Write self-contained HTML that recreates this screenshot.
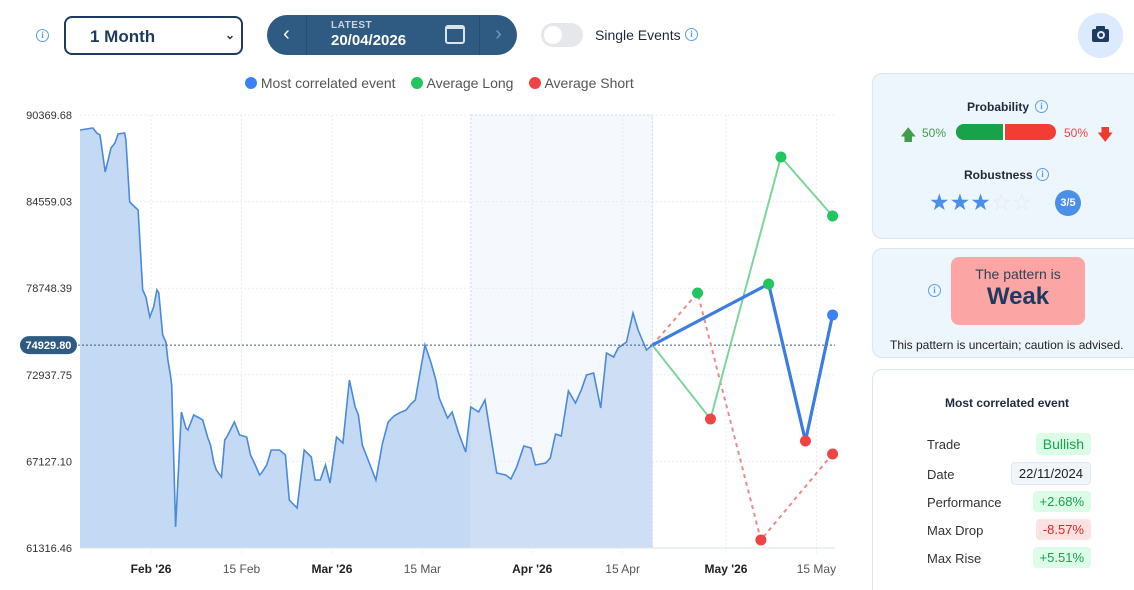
<!DOCTYPE html>
<html><head><meta charset="utf-8"><style>
*{box-sizing:border-box;margin:0;padding:0}
html,body{width:1134px;height:590px;overflow:hidden}
body{background:#fff;font-family:"Liberation Sans",sans-serif;color:#1e293b;position:relative}
.abs{position:absolute}
.info{width:13px;height:13px;border:1.3px solid #5aa0e8;border-radius:50%;color:#5aa0e8;font-size:9px;line-height:11px;text-align:center;font-weight:bold;font-family:"Liberation Serif",serif}
.card{position:absolute;left:872px;width:270px;border:1px solid #dbe6f0;border-radius:10px}
.row{position:absolute;left:54px;font-size:13px;color:#333}
.badge{position:absolute;right:50px;font-size:13px;padding:3px 7px;border-radius:4px;text-align:center}
</style></head><body>
<div class="abs info" style="left:36px;top:29px">i</div>
<div class="abs" style="left:64px;top:16px;width:179px;height:39px;border:2px solid #1e3a5f;border-radius:8px;font-size:17px;font-weight:bold;padding:9px 0 0 24px;color:#1e3a5f">1 Month<span style="position:absolute;right:6px;top:10px;font-size:12px">&#8964;</span></div>
<div class="abs" style="left:267px;top:15px;width:250px;height:40px;background:#2f5a82;border-radius:20px;color:#fff">
 <div class="abs" style="left:0;top:0;width:40px;height:40px;border-right:1px solid #284d70;font-size:20px;text-align:center;line-height:38px">&#8249;</div>
 <div class="abs" style="left:64px;top:5px;font-size:10px;font-weight:bold;color:#cbd5e1;letter-spacing:.5px">LATEST</div>
 <div class="abs" style="left:64px;top:17px;font-size:15px;font-weight:bold">20/04/2026</div>
 <div class="abs" style="left:178px;top:10px;width:20px;height:19px;border:2px solid #dbe3ec;border-top-width:4px;border-radius:3px"></div>
 <div class="abs" style="left:212px;top:0;width:38px;height:40px;border-left:1px solid #284d70;font-size:20px;text-align:center;line-height:38px;color:#7d97b2">&#8250;</div>
</div>
<div class="abs" style="left:541px;top:23px;width:42px;height:24px;background:#e5e7eb;border-radius:12px"><div style="position:absolute;left:3px;top:3px;width:18px;height:18px;border-radius:50%;background:#fff"></div></div>
<div class="abs" style="left:595px;top:27px;font-size:14px;color:#1e293b">Single Events</div>
<div class="abs info" style="left:685px;top:28px">i</div>
<div class="abs" style="left:1078px;top:13px;width:45px;height:45px;border-radius:50%;background:#dbeafe">
 <div style="position:absolute;left:14px;top:16px;width:17px;height:13px;background:#1e3a5f;border-radius:2px"></div>
 <div style="position:absolute;left:18px;top:13px;width:9px;height:4px;background:#1e3a5f;border-radius:1px"></div>
 <div style="position:absolute;left:19px;top:18px;width:8px;height:8px;border:2px solid #dbeafe;border-radius:50%"></div>
</div>

<div class="abs" style="left:245px;top:75px;font-size:14px;color:#555;white-space:nowrap">
 <span><span style="display:inline-block;width:12px;height:12px;border-radius:50%;background:#3b82f6;vertical-align:-1px"></span> Most correlated event</span>
 <span style="margin-left:12px"><span style="display:inline-block;width:12px;height:12px;border-radius:50%;background:#22c55e;vertical-align:-1px"></span> Average Long</span>
 <span style="margin-left:12px"><span style="display:inline-block;width:12px;height:12px;border-radius:50%;background:#ef4444;vertical-align:-1px"></span> Average Short</span>
</div>

<svg class="abs" style="left:0;top:0" width="860" height="590" id="chart"></svg>

<div class="card" style="top:73px;height:166px;background:#eef6fd">
 <div class="abs" style="left:94px;top:26px;font-size:12px;font-weight:bold">Probability</div>
 <div class="abs info" style="left:162px;top:26px">i</div>
 <div class="abs" style="left:27px;top:50px;color:#3f9e47;font-size:16px">&#129093;</div>
 <div class="abs" style="left:49px;top:52px;font-size:12px;color:#3f9e47">50%</div>
 <div class="abs" style="left:83px;top:50px;width:100px;height:16px;border-radius:8px;overflow:hidden;background:#f13d33"><div style="width:49px;height:16px;background:#16a34a;border-right:2px solid #fff"></div></div>
 <div class="abs" style="left:191px;top:52px;font-size:12px;color:#ef4444">50%</div>
 <div class="abs" style="left:224px;top:50px;color:#ef3a2e;font-size:16px">&#129095;</div>
 <div class="abs" style="left:91px;top:94px;font-size:12px;font-weight:bold">Robustness</div>
 <div class="abs info" style="left:163px;top:94px">i</div>
 <div class="abs" style="left:56px;top:115px;font-size:23px;letter-spacing:0px;line-height:26px"><span style="color:#4a90e8">★★★</span><span style="color:#e5e7eb">☆☆</span></div>
 <div class="abs" style="left:182px;top:116px;width:26px;height:26px;border-radius:50%;background:#4a90e8;color:#fff;font-size:11px;font-weight:bold;text-align:center;line-height:26px">3/5</div>
</div>
<div class="card" style="top:248px;height:110px;background:#eef6fd">
 <div class="abs info" style="left:55px;top:35px">i</div>
 <div class="abs" style="left:78px;top:8px;width:134px;height:68px;background:#fca5a5;border-radius:8px;text-align:center">
  <div style="font-size:14px;color:#334155;margin-top:9px">The pattern is</div>
  <div style="font-size:24px;font-weight:bold;color:#1e3a5f;margin-top:1px">Weak</div>
 </div>
 <div class="abs" style="left:17px;top:89px;font-size:12px;color:#222">This pattern is uncertain; caution is advised.</div>
</div>
<div class="card" style="top:369px;height:240px;background:#fff">
 <div class="abs" style="left:72px;top:26px;font-size:12px;font-weight:bold">Most correlated event</div>
 <div class="row" style="top:67px">Trade</div><div class="badge" style="top:63px;background:#dcfce7;color:#16a34a;font-size:14px">Bullish</div>
 <div class="row" style="top:97px">Date</div><div class="badge" style="top:92px;background:#f1f5f9;border:1px solid #e2e8f0;color:#222">22/11/2024</div>
 <div class="row" style="top:125px">Performance</div><div class="badge" style="top:121px;background:#dcfce7;color:#16a34a">+2.68%</div>
 <div class="row" style="top:153px">Max Drop</div><div class="badge" style="top:149px;background:#fee2e2;color:#dc2626">-8.57%</div>
 <div class="row" style="top:181px">Max Rise</div><div class="badge" style="top:177px;background:#dcfce7;color:#16a34a">+5.51%</div>
</div>

<script>
const yTicks=[90369.68,84559.03,78748.39,72937.75,67127.10,61316.46];
const xTickLabels=["Feb '26","15 Feb","Mar '26","15 Mar","Apr '26","15 Apr","May '26","15 May"];
const xTickDays=[11,25,39,53,70,84,100,114];
const xTickBold=[1,0,1,0,1,0,1,0];
const priceDays=[0,2.0,2.6,3.1,3.9,4.8,5.4,5.9,6.9,7.1,7.7,8.5,9.0,9.7,10.2,10.8,11.4,11.9,12.2,12.8,13.3,13.6,14.0,14.2,14.8,15.7,16.4,16.7,17.6,18.5,19.0,19.8,20.2,20.7,21.1,21.9,22.4,22.8,23.9,24.7,25.8,26.4,27.0,27.8,28.1,28.9,29.6,30.9,31.8,32.4,33.6,34.7,35.8,36.4,37.2,38.0,38.7,39.7,40.7,41.7,42.6,43.1,43.7,44.3,45.2,45.8,46.8,47.7,48.6,49.4,50.5,51.2,51.9,52.5,53.4,54.3,55.1,55.6,56.9,57.6,58.6,59.7,60.5,61.7,62.7,63.6,64.5,65.9,66.7,67.6,68.7,69.8,70.5,72.1,72.8,73.6,74.5,75.6,76.7,77.6,78.4,79.5,80.6,81.5,82.6,83.3,84.6,85.6,86.4,87.7,88.6];
const priceValues=[89364,89498,89162,89028,86546,88156,88491,89095,89162,88693,84533,84198,83996,78629,78159,76817,77489,78629,78428,75610,75141,73933,72927,72256,62729,70444,69371,69236,70243,70041,69907,68700,68230,67089,66553,66083,68565,68834,69773,68901,68766,67559,67022,66217,66351,66888,67894,67894,67559,64540,64003,67894,67425,65882,65882,66888,65681,68766,68364,72591,70779,70243,68230,67559,66553,65882,68297,69773,70176,70377,70578,70981,71249,72725,74940,73799,72591,71383,70041,70444,69035,67761,70779,70444,71249,68767,66351,66217,65949,66754,68163,68029,66888,67022,67358,68968,68834,71853,71048,71920,72927,73061,70712,74403,74135,74739,75141,77087,75946,74604,74930];
const latestValue=74929.80;
const highlightDays=[60.5,88.6];
const mostCorrDays=[88.6,106.6,112.3,116.5];
const mostCorrValues=[74930,79032,68498,76952];
const mostCorrDots=["#22c55e","#ef4444","#3b82f6"];
const longDays=[88.6,97.6,108.5,116.5];
const longValues=[74930,69975,87552,83594];
const longDots=["#ef4444","#22c55e","#22c55e"];
const shortDays=[88.6,95.6,105.4,116.5];
const shortValues=[74930,78428,61857,67626];
const shortDots=["#22c55e","#ef4444","#ef4444"];

const L=80,R=835,T=115,B=548,ymax=90369.68,ymin=61316.46;
const X=d=>L+d*6.46;
const Y=v=>T+(ymax-v)/(ymax-ymin)*(B-T);
const svg=document.getElementById('chart');
const NS='http://www.w3.org/2000/svg';
function mk(tag,at,parent){const e=document.createElementNS(NS,tag);for(const k in at)e.setAttribute(k,at[k]);(parent||svg).appendChild(e);return e;}

yTicks.forEach((v,i)=>{
 const g=mk('line',{x1:L,x2:R,y1:Y(v),y2:Y(v),stroke:'#e8edf3','stroke-dasharray':'2,2'});
 
 
 const t=mk('text',{x:72,y:Y(v)+4,'text-anchor':'end','font-size':'11','fill':'#333'});
 t.textContent=v.toFixed(2);
 
 
});
xTickDays.forEach((d,i)=>{
 const g=mk('line',{x1:X(d),x2:X(d),y1:T,y2:B+5,stroke:'#e8edf3','stroke-dasharray':'2,2'});
 
 
 const t=mk('text',{x:X(d),y:573,'text-anchor':'middle','font-size':'12','fill':xTickBold[i]?'#222':'#555','font-weight':xTickBold[i]?'bold':'normal'});
 t.textContent=xTickLabels[i];
 
 
});
let pts=priceDays.map((d,i)=>X(d).toFixed(1)+','+Y(priceValues[i]).toFixed(1));
const area=mk('path',{d:'M'+X(priceDays[0])+','+B+' L'+pts.join(' L')+' L'+X(priceDays[priceDays.length-1])+','+B+'Z',fill:'#c4d9f3'});


const hl=mk('rect',{x:X(highlightDays[0]),y:T,width:X(highlightDays[1])-X(highlightDays[0]),height:B-T,fill:'rgba(225,236,250,0.35)',stroke:'#c7daf2','stroke-dasharray':'2,2'});


const line=mk('polyline',{points:pts.join(' '),fill:'none',stroke:'#4a8ad8','stroke-width':'1.6'});


mk('line',{x1:L,x2:R,y1:B,y2:B,stroke:'#dde3ea'});
const ref=mk('line',{x1:L-10,x2:R,y1:Y(latestValue),y2:Y(latestValue),stroke:'#3a5a7a','stroke-dasharray':'2,2'});


const rb=mk('rect',{x:20,y:Y(latestValue)-9,width:57,height:18,rx:9,fill:'#2f5a82'});


const rt=mk('text',{x:48.5,y:Y(latestValue)+4,'text-anchor':'middle','font-size':'11','font-weight':'bold',fill:'#fff'});
rt.textContent=latestValue.toFixed(2);

function series(days,vals,dots,color,width,dash,name){
 const p=days.map((d,i)=>X(d)+','+Y(vals[i])).join(' ');
 const a={points:p,fill:'none',stroke:color,'stroke-width':width};
 if(dash)a['stroke-dasharray']=dash;
 const pl=mk('polyline',a);
 
 
 for(let i=1;i<days.length;i++){
  const c=mk('circle',{cx:X(days[i]),cy:Y(vals[i]),r:5.5,fill:dots[i-1]});
  
  
 }
}
series(shortDays,shortValues,shortDots,'#ee8a8a',2,'4,4','average-short');
series(longDays,longValues,longDots,'#7fd49a',2,null,'average-long');
series(mostCorrDays,mostCorrValues,mostCorrDots,'#3b7de0',3.2,null,'most-correlated');
</script>
</body></html>
